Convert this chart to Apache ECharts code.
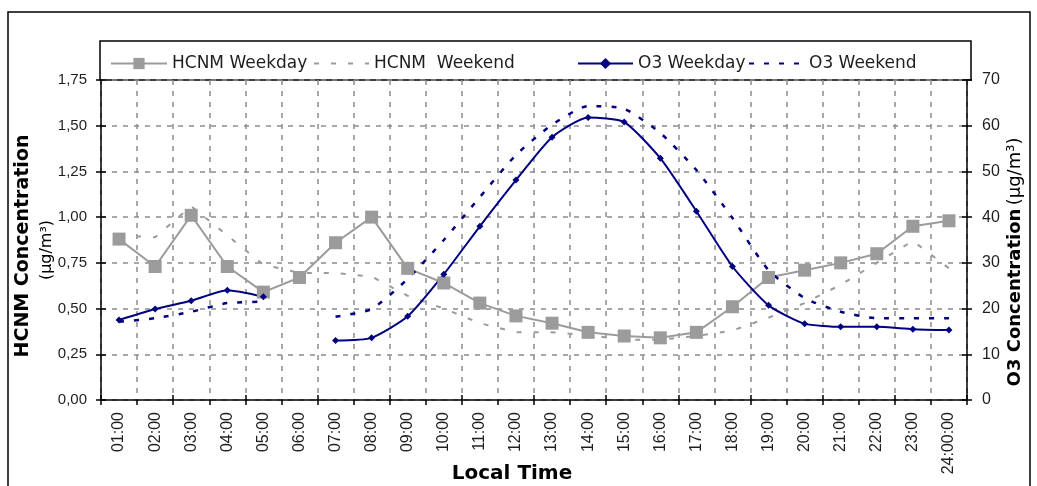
<!DOCTYPE html>
<html><head><meta charset="utf-8">
<script src="https://cdn.jsdelivr.net/npm/echarts@6/dist/echarts.min.js"></script>
<style>html,body{margin:0;padding:0;background:#fff}#c{width:1037px;height:486px}</style>
</head><body><div id="c"></div>
<script>
const hours = ['01:00','02:00','03:00','04:00','05:00','06:00','07:00','08:00','09:00','10:00','11:00','12:00',
               '13:00','14:00','15:00','16:00','17:00','18:00','19:00','20:00','21:00','22:00','23:00','24:00:00'];
const hcnmWeekday = [0.88,0.73,1.01,0.73,0.59,0.67,0.86,1.00,0.72,0.64,0.53,0.46,0.42,0.37,0.35,0.34,0.37,0.51,0.67,0.71,0.75,0.80,0.95,0.98];
const hcnmWeekend = [0.90,0.89,1.06,0.90,0.74,0.695,0.695,0.675,0.57,0.50,0.42,0.37,0.37,0.355,0.33,0.33,0.35,0.38,0.45,0.53,0.63,0.75,0.87,0.72];
const o3Weekday = [17.5,19.9,21.7,24.0,22.6,null,13.0,13.6,18.3,27.5,38.0,48.1,57.5,61.8,60.8,52.9,41.3,29.2,20.7,16.7,16.0,16.0,15.5,15.3];
const o3Weekend = [17.1,17.9,19.3,21.2,21.5,null,18.2,19.9,26.5,35.0,44.4,53.6,60.2,64.3,63.7,58.4,50.3,39.8,28.4,22.3,19.3,17.9,17.9,17.9];
const leftTicks = {min:0, max:1.75, interval:0.25};
const rightTicks = {min:0, max:70, interval:10};

const GRAY = '#9b9b9b', NAVY = '#000080', TXT = '#1e1e1e';
const gridDash = {show:true, lineStyle:{color:'#8c8c8c', type:[5,6], width:1.5}};

const chart = echarts.init(document.getElementById('c'), null, {renderer:'canvas'});
function legendAt(name, left, w, noSymbol){
  const item = noSymbol ? {name:name, itemStyle:{opacity:0}} : {name:name};
  return {data:[item], left:left, top:55, padding:0, itemWidth:w, itemHeight:14,
          textStyle:{fontFamily:'DejaVu Sans', fontSize:17, color:TXT}, selectedMode:false};
}
chart.setOption({
  animation:false,
  backgroundColor:'#fff',
  grid:{left:101, right:70, top:80, bottom:86, containLabel:false},
  legend:[legendAt('HCNM Weekday',110,56,false), legendAt('HCNM  Weekend',313,55,true),
          legendAt('O3 Weekday',577,55,false), legendAt('O3 Weekend',748,55,true)],
  xAxis:[{
    type:'category', data:hours, boundaryGap:true,
    axisLine:{lineStyle:{color:'#000', width:1.5}},
    axisTick:{show:true, length:5, lineStyle:{color:'#000', width:1.5}},
    axisLabel:{rotate:90, margin:12, fontFamily:'Liberation Sans', fontSize:16, color:TXT, interval:0},
    splitLine:gridDash
  },{
    type:'category', data:hours, boundaryGap:true, position:'bottom',
    axisLine:{show:false}, axisLabel:{show:false}, splitLine:{show:false},
    axisTick:{show:true, inside:true, length:5, lineStyle:{color:'#000', width:1.5}}
  }],
  yAxis:[{
    type:'value', position:'left', min:leftTicks.min, max:leftTicks.max, interval:leftTicks.interval,
    axisLine:{show:true, lineStyle:{color:'#000', width:1.5}},
    axisTick:{show:true, length:5, lineStyle:{color:'#000', width:1.5}},
    axisLabel:{margin:14, fontFamily:'Liberation Sans', fontSize:15, color:TXT,
               formatter:v=>v.toFixed(2).replace('.',',')},
    splitLine:gridDash
  },{
    type:'value', position:'right', min:rightTicks.min, max:rightTicks.max, interval:rightTicks.interval,
    axisLine:{show:true, lineStyle:{color:'#000', width:1.5}},
    axisTick:{show:true, length:5, lineStyle:{color:'#000', width:1.5}},
    axisLabel:{margin:15, fontFamily:'Liberation Sans', fontSize:16, color:TXT},
    splitLine:{show:false}
  },{
    type:'value', position:'left', min:leftTicks.min, max:leftTicks.max, interval:leftTicks.interval,
    axisLine:{show:false}, axisLabel:{show:false}, splitLine:{show:false},
    axisTick:{show:true, inside:true, length:5, lineStyle:{color:'#000', width:1.5}}
  },{
    type:'value', position:'right', min:rightTicks.min, max:rightTicks.max, interval:rightTicks.interval,
    axisLine:{show:false}, axisLabel:{show:false}, splitLine:{show:false},
    axisTick:{show:true, inside:true, length:5, lineStyle:{color:'#000', width:1.5}}
  }],
  series:[
    {name:'HCNM  Weekend', type:'line', data:hcnmWeekend, yAxisIndex:0, symbol:'none',
     lineStyle:{color:GRAY, width:2, type:[5,12]}, itemStyle:{color:GRAY}},
    {name:'HCNM Weekday', type:'line', data:hcnmWeekday, yAxisIndex:0, symbol:'rect', symbolSize:13,
     lineStyle:{color:GRAY, width:2}, itemStyle:{color:GRAY}},
    {name:'O3 Weekend', type:'line', data:o3Weekend, yAxisIndex:1, symbol:'none', smooth:0.2,
     lineStyle:{color:NAVY, width:2.5, type:[5,10]}, itemStyle:{color:NAVY}},
    {name:'O3 Weekday', type:'line', data:o3Weekday, yAxisIndex:1, symbol:'diamond', symbolSize:7, smooth:0.2,
     lineStyle:{color:NAVY, width:2}, itemStyle:{color:NAVY}}
  ],
  graphic:[
    {type:'rect', shape:{x:8, y:12, width:1022, height:490}, style:{fill:null, stroke:'#000', lineWidth:1.5}, silent:true, z:-1},
    {type:'rect', shape:{x:100, y:41, width:871, height:39}, style:{fill:null, stroke:'#000', lineWidth:1.5}, silent:true},
    {type:'text', x:23, y:246, rotation:Math.PI/2,
     style:{text:'HCNM Concentration', fontFamily:'DejaVu Sans', fontWeight:'bold', fontSize:19, fill:'#000', align:'center', verticalAlign:'middle'}},
    {type:'text', x:47, y:250, rotation:Math.PI/2,
     style:{text:'(µg/m³)', fontFamily:'DejaVu Sans', fontSize:16, fill:'#000', align:'center', verticalAlign:'middle'}},
    {type:'text', x:1015, y:262, rotation:Math.PI/2,
     style:{text:'{b|O3 Concentration} {n|(µg/m³)}', align:'center', verticalAlign:'middle',
            rich:{b:{fontFamily:'DejaVu Sans', fontWeight:'bold', fontSize:18, fill:'#000'},
                  n:{fontFamily:'DejaVu Sans', fontSize:18, fill:'#000'}}}},
    {type:'text', x:512, y:474,
     style:{text:'Local Time', fontFamily:'DejaVu Sans', fontWeight:'bold', fontSize:20, fill:'#000', align:'center', verticalAlign:'middle'}}
  ]
});
</script></body></html>
